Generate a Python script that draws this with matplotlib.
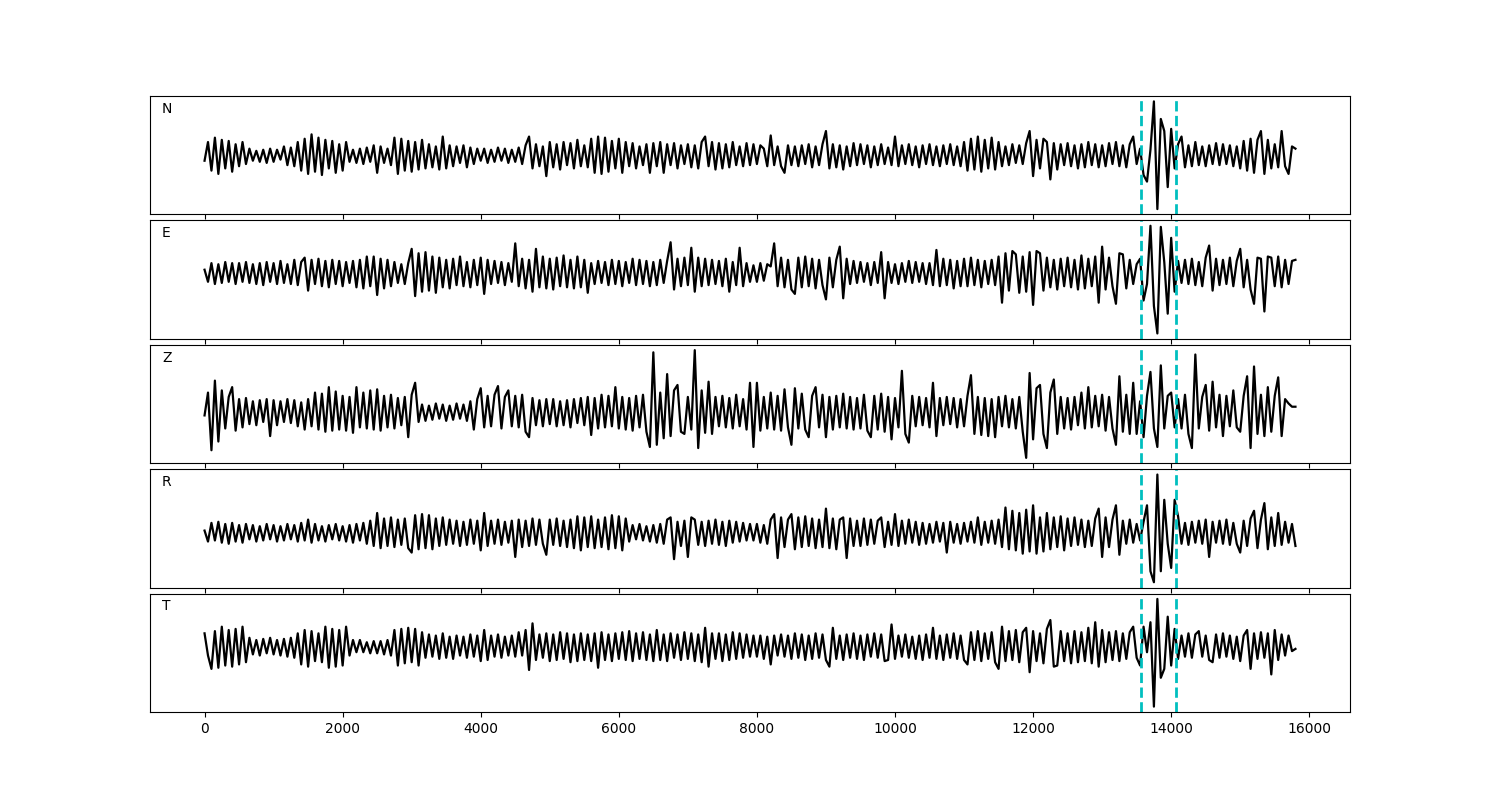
import numpy as np
import matplotlib
matplotlib.use("Agg")
import matplotlib.pyplot as plt

# sample positions (every 50 samples, 0..15800)
step = 50
picks = [13570, 14070]
labels = ["N", "E", "Z", "R", "T"]

# trace amplitudes (arbitrary units, one value per 50 samples)
N = [-5, 12, -14, 16, -17, 14, -12, 13, -15, 10,
     -10, 12, -8, 6, -5, 4, -6, 5, -7, 6,
     -6, 5, -4, 8, -9, 7, -10, 12, -14, 15,
     -17, 19, -15, 16, -18, 14, -12, 13, -16, 10,
     -14, 12, -6, 5, -7, 6, -8, 7, -6, 9,
     -16, 8, -7, 6, -9, 16, -17, 15, -14, 13,
     -15, 12, -13, 14, -12, 10, -11, 8, -13, 17,
     -12, 9, -10, 8, -7, 9, -11, 7, -8, 6,
     -5, 6, -7, 5, -6, 7, -5, 6, -7, 5,
     -6, 7, -8, 9, 17, -12, 10, -10, 8, -19,
     12, -11, 10, -13, 12, -9, 11, -12, 14, -10,
     9, -11, 15, -16, 17, -17, 16, -15, 13, -12,
     15, -16, 12, -10, 11, -12, 8, -9, 10, -16,
     11, -10, 12, -16, 10, -9, 11, -12, 9, -8,
     10, -11, 9, -12, 12, 17, -10, 12, -13, 11,
     -12, 10, -11, 12, -9, 8, -10, 11, -9, 10,
     -8, 9, 6, -10, 18, -9, 8, -10, -16, 9,
     -9, 8, -10, 9, -8, 10, -11, 8, -9, 10,
     22, -12, 10, -11, 9, -13, 8, -10, 11, -9,
     10, -8, 9, -11, 8, -9, 10, -8, 7, -9,
     17, -10, 9, -8, 10, -9, 8, -11, 9, -8,
     10, -9, 8, -10, 9, -8, 10, -9, 8, -10,
     12, -14, 15, -13, 17, -15, 14, -12, 16, -13,
     12, -10, 8, -9, 10, -7, 9, -8, 11, 22,
     -19, 14, -12, 15, 12, -22, 11, -13, 10, -9,
     11, -10, 9, -12, 10, -11, 12, -9, 10, -11,
     9, -10, 11, -8, 12, -10, 9, -11, 10, 17,
     -8, 6, -18, -24, 5, 49, -49, 33, 22, -29,
     24, -12, 10, 17, -11, 9, -10, 12, -9, 8,
     -10, 9, -8, 11, -9, 10, -8, 9, -10, 8,
     -12, 13, -14, 15, -16, 14, 22, -17, 14, -12,
     10, -11, 22, -10, -17, 8, 6]

E = [3, -8, 9, -10, 8, -9, 10, -8, 9, -10,
     9, -8, 10, -9, 8, -10, 9, -11, 10, -8,
     9, -10, 11, -9, 8, -10, 12, -11, 10, 14,
     -16, 12, -10, 13, -12, 11, -13, 12, -10, 11,
     -12, 10, -9, 11, -13, 12, -14, 15, -12, 15,
     -20, 13, -14, 12, -12, 10, -9, 8, -10, 9,
     22, -21, 18, -17, 19, -16, 15, -18, 14, -13,
     12, -14, 13, -11, 15, -12, 10, -13, 12, -11,
     14, -19, 12, -10, 11, -9, 10, -11, 9, -8,
     27, -12, 13, -14, 12, -17, 22, -13, 15, -14,
     13, -15, 14, -12, 16, -13, 12, -14, 15, -13,
     12, -18, 9, -10, 11, -9, 10, -11, 12, -10,
     11, -12, 10, -9, 13, -11, 12, -10, 11, -12,
     10, -11, 12, -9, 11, 28, -15, 13, -12, 14,
     -11, 23, -17, 14, -12, 13, -11, 12, -10, 11,
     -12, 13, -17, 10, -11, 23, -12, 9, -8, 7,
     -8, 9, -7, 8, 6, 27, -12, 14, -13, 12,
     -15, -19, 14, -13, 15, -12, 13, -14, 12, -11,
     -24, 14, -13, 12, 24, -23, 13, -10, 11, -9,
     10, -8, 9, -11, 10, -9, 19, -23, 10, -9,
     8, -10, 9, -8, 11, -9, 10, -8, 9, -10,
     9, -11, 21, -12, 13, -11, 12, -14, 11, -12,
     13, -12, 14, -11, 12, -13, 11, -10, 12, -11,
     15, -27, 18, -16, 20, 17, -18, 15, -17, 19,
     -29, 20, 18, -16, 14, -13, 12, -15, 13, -12,
     14, -13, 12, -15, 16, -14, 13, -12, 15, -27,
     24, -15, 14, -12, -28, 18, 17, -14, 12, -10,
     8, 13, -25, -10, 43, -30, -55, 42, 10, -37,
     32, -17, 11, -9, 12, -10, 13, -11, 10, -12,
     14, 25, -16, 13, -11, 12, -10, 14, -12, 11,
     22, -13, 12, -15, -28, 14, 13, -35, 15, 14,
     -12, 15, -13, 12, -10, 11, 12]

Z = [-3, 18, -35, 29, -27, 20, -15, 14, 23, -17,
     12, -14, 13, -11, 10, -12, 11, -9, 12, -22,
     11, -12, 10, -9, 12, -10, 11, -13, 9, -16,
     12, -13, 18, -16, 17, -18, 23, -17, 19, -16,
     15, -17, 14, -19, 23, -14, 18, -15, 20, -16,
     21, -17, 15, -14, 16, -15, 13, -12, 14, -23,
     16, 27, -9, 7, -8, 6, -7, 8, -6, 7,
     -8, 6, -7, 8, -6, 7, -8, 10, -16, 12,
     22, -14, 15, -13, 16, 24, -15, 14, 20, -13,
     15, -14, 16, -18, -23, 13, -12, 11, -13, 12,
     -11, 12, -13, 10, -12, 11, -14, 12, -10, 13,
     -12, 14, -21, 13, -15, 16, -14, 15, -13, 23,
     -15, 14, -16, 13, -17, 15, -14, 16, -18, -32,
     55, -30, 18, -24, 35, -22, 20, 25, -18, -20,
     14, -16, 57, -33, 20, -19, 28, -20, 14, -13,
     15, -14, 13, -15, 16, -13, 12, -16, 27, -32,
     27, -17, 14, -15, 18, -16, 15, -17, 21, -14,
     -30, 22, -15, 17, -16, -23, 15, 23, -14, 16,
     -23, 14, -16, 15, -14, 17, -15, 14, -16, 13,
     -15, 16, -17, -23, 15, -16, 17, -18, 14, -25,
     13, -14, 38, -20, -28, 15, -13, 14, -12, 13,
     -14, 27, -22, 13, -12, 14, -11, 13, -14, 12,
     -13, 15, 34, -20, 14, -21, 13, -22, 12, -23,
     14, -13, 15, -14, 12, -15, 14, -18, -42, 36,
     -25, 22, 25, -20, -33, 18, 30, -20, 14, -15,
     13, -16, 14, -12, 18, -15, 23, -14, 15, -13,
     16, -17, 14, -15, -30, 33, -18, 16, -20, 27,
     -20, 10, -23, 15, 37, -15, -32, 43, -15, 15,
     18, -14, 12, -15, 16, -20, -33, 53, -15, 14,
     25, -17, 28, -14, 16, -22, 15, -13, 20, -14,
     -18, 15, 33, -33, 42, -20, 16, -22, 23, -18,
     15, 32, -22, 12, 8, 5, 5]

R = [2, -8, 9, -7, 10, -9, 8, -10, 9, -8,
     7, -9, 8, -6, 7, -8, 6, -7, 8, -6,
     7, -8, 6, -7, 8, -6, 7, -8, 9, -7,
     12, -9, 8, -7, 6, -8, 7, -6, 8, -7,
     6, -8, 7, -9, 8, -7, 9, -10, 11, -12,
     18, -14, 13, -12, 14, -13, 12, -11, 13, -14,
     -18, 16, -15, 17, -14, 16, -15, 13, -12, 14,
     -11, 12, -10, 11, -12, 10, -11, 12, -10, 11,
     -16, 18, -12, 11, -10, 12, -11, 10, -9, 11,
     -22, 12, -13, 11, -12, 13, -11, 12, -10, -20,
     12, -11, 13, -12, 11, -13, 12, -14, 15, -16,
     14, -13, 15, -14, 12, -13, 14, -15, 16, -14,
     15, -16, 13, -8, 7, -6, 8, -7, 6, -8,
     7, -9, 8, -10, 12, 14, -24, 10, -12, 11,
     -22, 14, 12, -11, 10, -12, 11, -10, 12, -11,
     10, -12, 11, -9, 10, -8, 9, -7, 8, -7,
     8, -9, 7, -10, 12, 17, -23, 14, -13, 12,
     17, -15, 14, -13, 15, -12, 13, -14, 12, -13,
     22, -14, 13, -15, 12, 14, -23, 13, -12, 11,
     -12, 13, -11, 12, -10, 11, 14, -13, 10, -11,
     17, -12, 11, -10, 12, -9, 10, -11, 9, -10,
     8, -9, 10, -8, 9, -18, 10, -9, 8, -10,
     9, -8, 10, -9, 14, -11, 10, -9, 11, -10,
     12, -13, 23, -15, 20, -16, 18, -19, 21, -17,
     25, -19, 14, -17, 18, -15, 14, -13, 15, -16,
     13, -12, 14, -11, 12, -13, 11, -12, 13, 22,
     -22, 14, -13, 12, 25, -20, 11, -10, 12, -9,
     8, -7, 10, 25, -35, -45, 53, -35, 30, -10,
     -32, 30, 15, -10, 9, -11, 10, -9, 11, -10,
     12, -22, 10, -9, 11, -10, 12, -11, 9, -10,
     -18, 11, -12, 13, 20, -14, 12, 27, -15, 14,
     -12, 18, -11, 10, -9, 8, -12]

T = [12, -8, -20, 14, -19, 18, -17, 15, -18, 16,
     -16, 18, -14, 8, -7, 6, -8, 7, -6, 8,
     -7, 6, -8, 7, -9, 8, -10, 12, -16, 15,
     -18, 14, -13, 12, -14, 18, -19, 16, -18, 15,
     -17, 18, -8, 6, -5, 6, -5, 4, -6, 5,
     -6, 5, -7, 6, -8, 15, -17, 16, -15, 17,
     -14, 16, -17, 13, -10, 11, -9, 10, -11, 12,
     -10, 9, -11, 10, -8, 9, -10, 11, -9, 10,
     -13, 15, -12, 10, -9, 11, -10, 9, -8, 10,
     -9, 13, -8, 15, -21, 21, -12, 11, -10, 12,
     -13, 11, -12, 13, -11, 12, -14, 11, -13, 12,
     -12, 11, -13, 12, -19, 13, -12, 11, -13, 12,
     -11, 13, -12, 14, -13, 12, -11, 13, -12, 11,
     -13, 15, -12, 11, -13, 12, -10, 11, -12, 13,
     -11, 12, -13, 11, -14, 17, -18, 12, -11, 12,
     -13, 11, -12, 13, -11, 12, -10, 11, -9, 10,
     -9, 10, -11, 9, -16, 10, -8, 11, -9, 10,
     -11, 12, -10, 11, -12, 10, -11, 12, -10, 11,
     -12, -18, 17, -11, 10, -12, 11, -10, 12, -11,
     10, -12, 11, -9, 12, -10, 11, -13, -12, 20,
     -11, 10, -9, 11, -10, 9, -11, 10, -12, 11,
     -10, 17, -11, 10, -12, 11, -10, 12, -11, 10,
     -12, -16, 13, -12, 14, -13, 12, -11, 13, -14,
     -20, 18, -13, 14, -12, 15, -14, 13, 17, -23,
     14, -13, 12, -15, 16, 24, -18, -17, 14, -13,
     12, -15, 14, -14, 13, -13, 17, -15, 22, -18,
     15, -14, 13, -12, 14, -13, 12, -11, 13, 18,
     -10, -17, 18, -5, 22, -54, 43, -28, -20, 27,
     -17, 16, -11, 10, -9, 12, -10, 11, 14, -9,
     10, -12, -14, 11, -10, 12, -9, 10, -11, 9,
     -13, 10, 15, -20, 12, -11, 13, -10, 12, -25,
     15, -12, 11, -8, 10, -4, -2]

traces = [N, E, Z, R, T]
x = np.arange(len(N)) * step

fig, axes = plt.subplots(5, 1, sharex=True, figsize=(15, 8))
plt.subplots_adjust(left=0.1, right=0.9, top=0.88, bottom=0.11, hspace=0.05)

for ax, tr, lab in zip(axes, traces, labels):
    ax.plot(x, tr, color="k", linewidth=1.6)
    for p in picks:
        ax.axvline(p, color="c", linestyle="--", linewidth=2)
    ax.set_yticks([])
    ax.text(0.01, 0.95, lab, transform=ax.transAxes, va="top", fontsize=10)

plt.savefig("out.png", dpi=100)
